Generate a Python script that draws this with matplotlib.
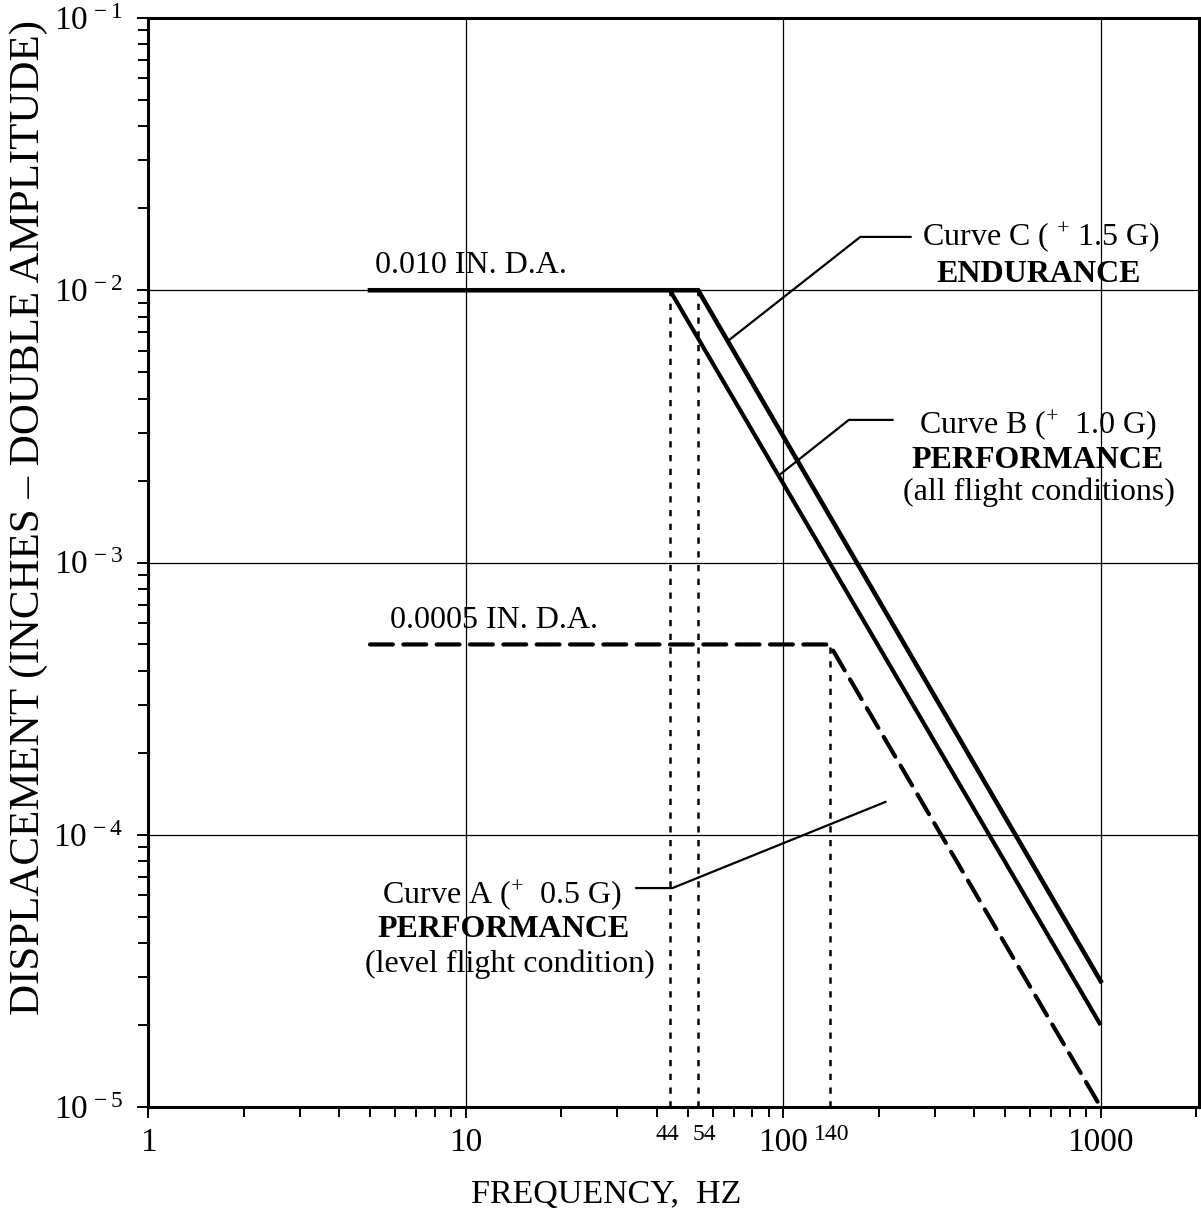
import matplotlib
matplotlib.use("Agg")
import matplotlib.pyplot as plt
import matplotlib.transforms as mtransforms
from matplotlib.ticker import LogLocator, FixedLocator, NullFormatter

plt.rcParams['font.family'] = ['Liberation Serif', 'DejaVu Serif']
plt.rcParams['mathtext.fontset'] = 'custom'
plt.rcParams['mathtext.rm'] = 'Liberation Serif'
plt.rcParams['mathtext.it'] = 'Liberation Serif:italic'
plt.rcParams['mathtext.bf'] = 'Liberation Serif:bold'

# ---- data ----
curveC_f = [5, 54, 1000]
curveC_d = [0.010, 0.010, 2.9e-5]
curveB_f = [44, 1000]
curveB_d = [0.010, 2.0e-5]
curveA_f = [5, 140, 1000]
curveA_d = [0.0005, 0.0005, 1.0e-5]

cross_f = [44, 54, 140]
cross_top = [0.010, 0.010, 0.0005]
cross_labels = ["44", "54", "140"]
cross_label_shift = [-3, 6, 2]   # pixel nudges of the small labels

x_ticks = [1, 10, 100, 1000]
x_ticklabels = ["1", "10", "100", "1000"]
y_ticks = [1e-5, 1e-4, 1e-3, 1e-2, 1e-1]
y_ticklabels = [r"$10^{\,-5}$", r"$10^{\,-4}$", r"$10^{\,-3}$", r"$10^{\,-2}$", r"$10^{\,-1}$"]

leaderC_f = [68, 175, 252]
leaderC_d = [6.6e-3, 1.57e-2, 1.57e-2]
leaderB_f = [97, 161, 221]
leaderB_d = [2.09e-3, 3.34e-3, 3.34e-3]
leaderA_f = [210, 44.8, 34.5]
leaderA_d = [1.32e-4, 6.37e-5, 6.37e-5]

fig = plt.figure(figsize=(12.01, 12.13), dpi=100)
ax = fig.add_axes([148/1201, 106/1213, (1199-148)/1201, (1107-18)/1213])
ax.set_xscale('log')
ax.set_yscale('log')
ax.set_xlim(1, 2040)
ax.set_ylim(1e-5, 1e-1)

# grid (major only)
ax.grid(True, which='major', color='black', linewidth=0.9)
ax.set_axisbelow(True)

# curves
ax.plot(curveC_f, curveC_d, color='black', lw=3.3, solid_joinstyle='miter', zorder=4)
ax.plot(curveB_f, curveB_d, color='black', lw=3.0, solid_capstyle='butt', zorder=4)
ax.plot(curveA_f, curveA_d, color='black', lw=3.0, dashes=(5.5, 2.5),
        dash_capstyle='round', zorder=4)

# dotted verticals
for f, top in zip(cross_f, cross_top):
    ax.plot([f, f], [1e-5, top], color='black', lw=1.8, dashes=(2.5, 3.0), zorder=3)

# leaders
for lf, ld in [(leaderC_f, leaderC_d), (leaderB_f, leaderB_d), (leaderA_f, leaderA_d)]:
    ax.plot(lf, ld, color='black', lw=1.6, zorder=3)

# ticks
ax.xaxis.set_major_locator(FixedLocator(x_ticks))
ax.set_xticklabels(x_ticklabels)
ax.xaxis.set_minor_locator(LogLocator(base=10, subs=range(2, 10), numticks=20))
ax.xaxis.set_minor_formatter(NullFormatter())
ax.yaxis.set_major_locator(FixedLocator(y_ticks))
ax.set_yticklabels(y_ticklabels)
ax.yaxis.set_minor_locator(LogLocator(base=10, subs=range(2, 10), numticks=20))
ax.yaxis.set_minor_formatter(NullFormatter())
ax.tick_params(which='both', direction='out', width=1.4, labelsize=24, color='black')
ax.tick_params(which='major', length=8, pad=7)
ax.tick_params(which='minor', length=7)
ax.tick_params(axis='y', which='major', pad=10)

for s in ax.spines.values():
    s.set_linewidth(2.2)
    s.set_color('black')

# small crossover labels
trans = mtransforms.blended_transform_factory(ax.transData, ax.transAxes)
for f, lab, dx in zip(cross_f, cross_labels, cross_label_shift):
    ax.annotate(lab, xy=(f, 0), xycoords=trans, xytext=(dx * 0.72, -20),
                textcoords='offset points', ha='center', va='center', fontsize=17)

# axis labels
fig.text(0.505, 0.008, "FREQUENCY,  HZ", ha='center', va='baseline', fontsize=24.5)
fig.text(0.024, 0.573, "DISPLACEMENT (INCHES \u2013 DOUBLE AMPLITUDE)",
         ha='center', va='center', rotation=90, fontsize=31)

fs = 23
# level labels
ax.text(5.19, 1.157e-2, "0.010 IN. D.A.", fontsize=fs, ha='left', va='baseline')
ax.text(5.79, 5.75e-4, "0.0005 IN. D.A.", fontsize=fs, ha='left', va='baseline')

# Curve C
ax.text(647, 1.466e-2, r"Curve C ( $^{+}$ 1.5 G)", fontsize=fs, ha='center', va='baseline')
ax.text(640, 1.072e-2, "ENDURANCE", fontsize=fs, fontweight='bold', ha='center', va='baseline')
# Curve B
ax.text(634, 2.99e-3, r"Curve B ($^{+}$  1.0 G)", fontsize=fs, ha='center', va='baseline')
ax.text(634, 2.224e-3, "PERFORMANCE", fontsize=fs, fontweight='bold', ha='center', va='baseline')
ax.text(640, 1.697e-3, "(all flight conditions)", fontsize=fs, ha='center', va='baseline')
# Curve A
ax.text(13.0, 5.61e-5, r"Curve A ($^{+}$  0.5 G)", fontsize=fs, ha='center', va='baseline')
ax.text(13.15, 4.21e-5, "PERFORMANCE", fontsize=fs, fontweight='bold', ha='center', va='baseline')
ax.text(13.8, 3.13e-5, "(level flight condition)", fontsize=fs, ha='center', va='baseline')

fig.savefig("out.png", dpi=100)
